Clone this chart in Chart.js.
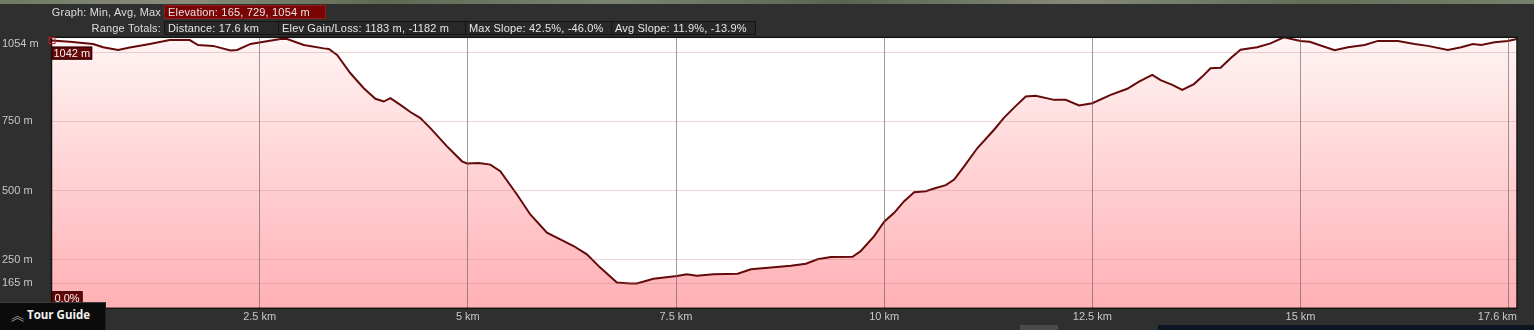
<!DOCTYPE html>
<html>
<head>
<meta charset="utf-8">
<script src="https://cdn.jsdelivr.net/npm/chart.js@4/dist/chart.umd.min.js"></script>
<style>
  html, body { margin: 0; padding: 0; background: #2f2f2f; }
  #wrap { position: relative; width: 1534px; height: 330px; overflow: hidden; background: #2f2f2f;
          font-family: "Liberation Sans", Arial, sans-serif; font-size: 11px; color: #dedede; }
  #chart { position: absolute; left: 0; top: 0; }
  .sat { position: absolute; left: 0; top: 0; width: 1534px; height: 4px;
         background: linear-gradient(90deg, #6f7a62, #8a8d7c 12%, #5d6a52 25%, #7c8470 40%, #59654e 55%, #858a78 70%, #627058 85%, #77806a); }
  .lbl { position: absolute; right: 1373px; white-space: nowrap; line-height: 14px; letter-spacing: 0.18px; }
  .box { position: absolute; height: 13px; line-height: 13px; padding-left: 3px; box-sizing: border-box;
         background: #282828; border: 1px solid #141414; white-space: nowrap; color: #e6e6e6; letter-spacing: 0.18px; }
  .box.red { background: #7a0404; border-color: #8e1a1a; }
  .tour { position: absolute; left: 0; top: 302px; width: 106px; height: 28px; background: #0b0b0b;
          border-top: 1px solid #3a3a3a; border-right: 1px solid #222; box-sizing: border-box;
          font-family: "Open Sans", sans-serif; font-weight: bold; font-size: 11.5px; color: #f2f2f2;
          line-height: 24px; padding-left: 11px; }
  .tour span { display: inline-block; font-family: "Noto Sans CJK SC", sans-serif; font-weight: normal; color: #a8a8a8;
               font-size: 13px; line-height: 13px; margin-right: 3px; vertical-align: -1px; }
  .strip { position: absolute; top: 325px; height: 5px; }
</style>
</head>
<body>
<div id="wrap">
  <canvas id="chart" width="1534" height="330"></canvas>
  <div class="sat"></div>
  <div class="lbl" style="top:5px">Graph: Min, Avg, Max</div>
  <div class="box red" style="left:164px; top:5px; width:162px; height:14px">Elevation: 165, 729, 1054 m</div>
  <div class="lbl" style="top:21px">Range Totals:</div>
  <div class="box" style="left:164px; top:21px; width:115px; height:14px">Distance: 17.6 km</div>
  <div class="box" style="left:278px; top:21px; width:188px; height:14px">Elev Gain/Loss: 1183 m, -1182 m</div>
  <div class="box" style="left:465px; top:21px; width:147px; height:14px">Max Slope: 42.5%, -46.0%</div>
  <div class="box" style="left:611px; top:21px; width:145px; height:14px">Avg Slope: 11.9%, -13.9%</div>
  <div class="strip" style="left:1020px; width:38px; background:#4a4a4a"></div>
  <div class="strip" style="left:1158px; width:376px; background:#0c1522"></div>
  <div class="tour"><span>︽</span>Tour Guide</div>
</div>
<script>
// elevation profile
const distKm = [
  0.00, 0.22, 0.50, 0.62, 0.80, 0.94, 1.18, 1.42, 1.66, 1.76, 1.94, 2.15, 2.23, 2.39, 2.55, 2.75, 2.83,
  3.03, 3.27, 3.33, 3.43, 3.59, 3.75, 3.89, 3.99, 4.07, 4.19, 4.31, 4.43, 4.55, 4.75, 4.93, 4.99,
  5.13, 5.27, 5.39, 5.59, 5.75, 5.95, 6.11, 6.27, 6.43, 6.59, 6.79, 6.95, 7.03, 7.23, 7.51, 7.63,
  7.75, 7.95, 8.24, 8.40, 8.64, 8.88, 9.06, 9.20, 9.36, 9.62, 9.72, 9.88, 10.00, 10.12, 10.24, 10.36,
  10.50, 10.60, 10.74, 10.84, 10.96, 11.12, 11.32, 11.44, 11.56, 11.70, 11.82, 12.04, 12.18, 12.34,
  12.50, 12.72, 12.92, 13.06, 13.22, 13.32, 13.46, 13.58, 13.72, 13.82, 13.92, 14.04, 14.16, 14.28,
  14.48, 14.64, 14.80, 15.00, 15.11, 15.41, 15.57, 15.77, 15.93, 16.17, 16.37, 16.53, 16.77, 16.93,
  17.07, 17.17, 17.33, 17.49, 17.60
];
const elevM = [
  1042, 1038, 1030, 1018, 1008, 1017, 1030, 1044, 1044, 1026, 1023, 1006, 1008, 1030, 1038, 1048, 1048,
  1026, 1014, 1012, 990, 924, 870, 832, 822, 834, 810, 784, 762, 726, 660, 606, 598,
  600, 594, 570, 486, 414, 348, 324, 300, 270, 222, 168, 165, 165, 182, 192, 198,
  193, 198, 200, 216, 222, 229, 236, 252, 260, 261, 282, 336, 388, 420, 462, 494,
  498, 508, 520, 540, 588, 654, 720, 764, 800, 840, 843, 828, 828, 808,
  816, 846, 868, 894, 918, 899, 882, 864, 885, 912, 942, 944, 978, 1009,
  1018, 1032, 1054, 1041, 1038, 1007, 1018, 1026, 1041, 1041, 1030, 1023, 1008, 1018,
  1030, 1026, 1036, 1041, 1048
];

const yTickValues = [165, 250, 500, 750, 1000, 1054];
const yTickLabels = ['165 m', '250 m', '500 m', '750 m', '', ['', '1054 m']];
const xTickValues = [0, 2.5, 5, 7.5, 10, 12.5, 15, 17.5, 17.6];
const xTickLabels = ['', '2.5 km', '5 km', '7.5 km', '10 km', '12.5 km', '15 km', '', '17.6 km'];
const startSlope = '0.0%';

const tickFont = { family: '"Liberation Sans", Arial, sans-serif', size: 11 };

function tag(ctx, text, x, y, h, pad) {
  ctx.font = '11px "Liberation Sans", Arial, sans-serif';
  const w = ctx.measureText(text).width + pad * 2;
  ctx.fillStyle = '#650707';
  ctx.fillRect(x, y, w, h);
  ctx.strokeStyle = '#2a0000';
  ctx.lineWidth = 1;
  ctx.strokeRect(x + 0.5, y + 0.5, w - 1, h - 1);
  ctx.fillStyle = '#f4f4f4';
  ctx.textBaseline = 'middle';
  ctx.textAlign = 'left';
  ctx.fillText(text, x + pad, y + h / 2 + 0.5);
}

const profilePlugin = {
  id: 'profile',
  beforeDraw(chart) {
    const { ctx, chartArea: a } = chart;
    ctx.save();
    ctx.fillStyle = '#ffffff';
    ctx.fillRect(a.left, a.top, a.right - a.left, a.bottom - a.top);
    ctx.restore();
  },
  afterDraw(chart) {
    const { ctx, chartArea: a, scales: { x, y } } = chart;
    ctx.save();
    ctx.strokeStyle = '#141414';
    ctx.lineWidth = 1.5;
    ctx.strokeRect(a.left, a.top, a.right - a.left, a.bottom - a.top);
    // cursor at the start point
    const px = x.getPixelForValue(distKm[0]);
    const py = y.getPixelForValue(elevM[0]);
    ctx.strokeStyle = '#d41818';
    ctx.lineWidth = 1;
    ctx.strokeRect(px - 2.5, py - 3, 6, 6);
    tag(ctx, elevM[0] + ' m', a.left, py + 6, 13, 2);
    tag(ctx, startSlope, a.left, a.bottom - 17, 14, 3);
    ctx.restore();
  }
};

new Chart(document.getElementById('chart'), {
  type: 'line',
  data: {
    datasets: [{
      data: distKm.map((d, i) => ({ x: d, y: elevM[i] })),
      borderColor: '#650a0a',
      borderWidth: 2,
      pointRadius: 0,
      tension: 0,
      fill: 'start',
      backgroundColor: (c) => {
        const a = c.chart.chartArea;
        if (!a) return '#ffc8ca';
        const g = c.chart.ctx.createLinearGradient(0, a.top, 0, a.bottom);
        g.addColorStop(0, 'rgb(255,244,244)');
        g.addColorStop(1, 'rgb(255,176,180)');
        return g;
      }
    }]
  },
  options: {
    responsive: false,
    animation: false,
    layout: { padding: { left: 2, top: 37.3, right: 17, bottom: 0 } },
    plugins: { legend: { display: false }, tooltip: { enabled: false } },
    scales: {
      x: {
        type: 'linear',
        min: 0,
        max: 17.6,
        afterBuildTicks: (s) => { s.ticks = xTickValues.map(v => ({ value: v })); },
        afterFit: (s) => { s.height = 21.7; },
        grid: { color: 'rgba(95,90,90,0.6)', lineWidth: 1, drawTicks: false, z: 1 },
        border: { display: false },
        ticks: {
          autoSkip: false,
          maxRotation: 0,
          align: 'inner',
          padding: 2,
          color: '#c8c8c8',
          font: tickFont,
          callback: (v, i) => xTickLabels[i]
        }
      },
      y: {
        min: 75,
        max: 1054,
        afterBuildTicks: (s) => { s.ticks = yTickValues.map(v => ({ value: v })); },
        afterFit: (s) => { s.width = 49.5; },
        grid: { color: 'rgba(190,120,120,0.3)', lineWidth: 1, drawTicks: false, z: 1 },
        border: { display: false },
        ticks: {
          autoSkip: false,
          crossAlign: 'far',
          color: '#c8c8c8',
          font: tickFont,
          callback: (v, i) => yTickLabels[i]
        }
      }
    }
  },
  plugins: [profilePlugin]
});
</script>
</body>
</html>
